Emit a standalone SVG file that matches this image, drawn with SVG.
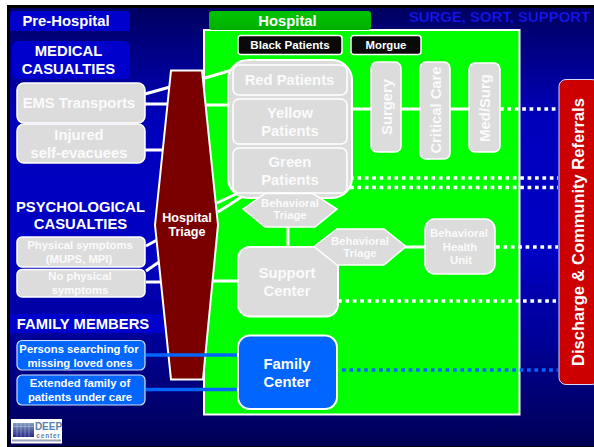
<svg xmlns="http://www.w3.org/2000/svg" width="594" height="447" viewBox="0 0 594 447">
<style>
text{font-family:"Liberation Sans",Arial,sans-serif;font-weight:bold;text-anchor:middle}
.w{fill:#fff}
.g{fill:#fff;opacity:.9}
.l{font-size:14.800px}
.s{font-size:11.300px}
.box{fill:#dcdcdc;stroke:#fff;stroke-width:1.500}
.bl{fill:#0066ff;stroke:#cfe0ff;stroke-width:1.200}
.k{fill:#0a0a0a;stroke:#fff;stroke-width:1.500}
.ln{stroke:#fff;stroke-width:3;fill:none}
.dot{stroke:#fff;stroke-width:3.500;fill:none;stroke-dasharray:3.700 3.700}
</style>
<defs>
<linearGradient id="bg" x1="0" y1="0" x2="0" y2="1">
<stop offset="0" stop-color="#000060"/><stop offset=".25" stop-color="#0000bb"/><stop offset=".55" stop-color="#0000c4"/><stop offset=".75" stop-color="#000099"/><stop offset="1" stop-color="#000055"/>
</linearGradient>
<linearGradient id="hd" x1="0" y1="0" x2="0" y2="1"><stop offset="0" stop-color="#00c400"/><stop offset="1" stop-color="#00b000"/></linearGradient>
<linearGradient id="lg" x1="0" y1="0" x2="0" y2="1"><stop offset="0" stop-color="#7f9cc0"/><stop offset="1" stop-color="#2a2a88"/></linearGradient>
</defs>
<rect width="594" height="447" fill="#fff"/>
<rect x="7" y="5" width="587" height="442" fill="#000"/>
<rect x="10" y="8" width="584" height="438" fill="url(#bg)"/>
<g id="title"><text x="499.500" y="22" font-size="14.900" fill="#1a1aee" stroke="#0000a0" stroke-width=".5">SURGE, SORT, SUPPORT</text></g>
<g id="hospital-area"><rect x="204" y="30" width="315.500" height="384.500" fill="#00ff00" stroke="#fff" stroke-width="2"/></g>
<g id="pre-hospital"><rect x="10" y="11" width="120" height="20" rx="3" fill="#0000cc"/><text class="w l" x="66" y="26">Pre-Hospital</text></g>
<g id="hospital"><rect x="209" y="11" width="162" height="19" rx="3" fill="url(#hd)"/><text class="w l" x="287.500" y="26">Hospital</text></g>
<g id="medical"><rect x="12" y="41" width="118" height="38" rx="6" fill="#0000cc"/><text class="w l" x="68.500" y="56">MEDICAL</text><text class="w l" x="68.500" y="74">CASUALTIES</text></g>
<g id="psych"><text class="w l" x="80.500" y="212">PSYCHOLOGICAL</text><text class="w l" x="80.500" y="229">CASUALTIES</text></g>
<g id="family-members"><rect x="10" y="314" width="155" height="19" fill="#0000cc"/><text class="w l" x="83" y="329">FAMILY MEMBERS</text></g>
<g id="connectors">
<path class="ln" d="M145 94L170 87M145 104H172M145 150H164M146 246L157 240M146 271L159 262M146 282H161M205 78L232 70M205 105H230M217 203L236 194M218 212L243 196M288 227V248M213 281H239M352 109H372M401 109H421M450 109H470M405 247H426"/>
<path class="dot" d="M500 109H556M350 178H558M350 187.500H558M496 247H558M338 301H556"/>
<path d="M342 370H558" stroke="#0066ff" stroke-width="3.500" stroke-dasharray="3.700 3.700" fill="none"/>
</g>
<g id="triage"><path d="M171 70.500H202L218 225L203 379.500H171L155 225Z" fill="#7a0000" stroke="#fff" stroke-width="2"/><text class="w" x="187" y="222" font-size="12.600">Hospital</text><text class="w" x="187" y="236" font-size="12.600">Triage</text></g>
<g id="blue-links"><path d="M146 355H239M146 389.500H239" stroke="#0066ff" stroke-width="3.500" fill="none"/></g>
<g id="black"><rect class="k" x="238" y="35.500" width="104" height="19" rx="3"/><text class="w" x="290" y="49" font-size="11.600">Black Patients</text></g>
<g id="morgue"><rect class="k" x="351" y="35.500" width="70" height="19" rx="3"/><text class="w" x="386" y="49" font-size="11.300">Morgue</text></g>
<g id="patients-frame"><rect x="228" y="60" width="124" height="138" rx="20" fill="#dcdcdc" stroke="#fff" stroke-width="2"/></g>
<g id="red"><rect class="box" x="233" y="65" width="114" height="30" rx="6"/><text class="g l" x="289.500" y="85">Red Patients</text></g>
<g id="yellow"><rect class="box" x="233" y="99" width="114" height="45" rx="6"/><text class="g l" x="290" y="118">Yellow</text><text class="g l" x="290" y="136">Patients</text></g>
<g id="green"><rect class="box" x="233" y="148" width="114" height="45" rx="6"/><text class="g l" x="290" y="167">Green</text><text class="g l" x="290" y="185">Patients</text></g>
<g id="surgery"><rect class="box" x="371" y="62" width="30" height="90" rx="6"/><text class="g l" transform="translate(392 107) rotate(-90)">Surgery</text></g>
<g id="critical"><rect class="box" x="420" y="62" width="30" height="97" rx="6"/><text class="g l" transform="translate(441 110) rotate(-90)">Critical Care</text></g>
<g id="medsurg"><rect class="box" x="469" y="63" width="31" height="89" rx="6"/><text class="g l" transform="translate(490 108) rotate(-90)">Med/Surg</text></g>
<g id="ems"><rect class="box" x="17" y="83" width="128" height="40" rx="7"/><text class="g l" x="79" y="108">EMS Transports</text></g>
<g id="injured"><rect class="box" x="17" y="124" width="128" height="39" rx="7"/><text class="g l" x="79" y="140">Injured</text><text class="g l" x="79" y="158">self-evacuees</text></g>
<g id="physical"><rect class="box" x="17" y="237" width="128" height="30" rx="5"/><text class="g s" x="80" y="249">Physical symptoms</text><text class="g s" x="79" y="263">(MUPS, MPI)</text></g>
<g id="nophysical"><rect class="box" x="17" y="269.500" width="128" height="27.500" rx="5"/><text class="g s" x="80" y="280">No physical</text><text class="g s" x="80" y="294">symptoms</text></g>
<g id="searching"><rect class="bl" x="17" y="340.500" width="128" height="29.500" rx="5"/><text class="w s" x="79" y="353">Persons searching for</text><text class="w s" x="80" y="367">missing loved ones</text></g>
<g id="extended"><rect class="bl" x="17" y="375" width="128" height="30" rx="5"/><text class="w s" x="80" y="387">Extended family of</text><text class="w s" x="80" y="401">patients under care</text></g>
<g id="beh1"><path d="M243 209L265 193.500H313L337 209L315 227H265Z" fill="#dcdcdc" stroke="#fff" stroke-width="1.500"/><text class="g s" x="290" y="207">Behavioral</text><text class="g s" x="290" y="219">Triage</text></g>
<g id="support"><rect x="238" y="247" width="100" height="69.500" rx="12" fill="#dcdcdc" stroke="#fff" stroke-width="2"/><text class="g l" x="287" y="278">Support</text><text class="g l" x="287" y="296">Center</text></g>
<g id="beh2"><path d="M314 246.500L337 229H384L406 246.500L384 265H337Z" fill="#dcdcdc" stroke="#fff" stroke-width="1.500"/><text class="g s" x="360" y="245">Behavioral</text><text class="g s" x="360" y="257">Triage</text></g>
<g id="bhu"><rect x="425" y="219" width="70" height="55" rx="10" fill="#dcdcdc" stroke="#fff" stroke-width="1.500"/><text class="g s" x="459" y="237">Behavioral</text><text class="g s" x="460" y="251">Health</text><text class="g s" x="461" y="264">Unit</text></g>
<g id="family"><rect x="238" y="335.500" width="99" height="73.500" rx="12" fill="#0066ff" stroke="#fff" stroke-width="2"/><text class="w l" x="287" y="369">Family</text><text class="w l" x="287" y="387">Center</text></g>
<g id="discharge"><rect x="559" y="79.500" width="40" height="305" rx="7" fill="#cc0000" stroke="#d8d8ff" stroke-width="1"/><text class="w" font-size="16.500" transform="translate(583.500 232) rotate(-90)">Discharge &amp; Community Referrals</text></g>
<g id="logo"><rect x="11" y="419" width="51" height="24.500" fill="#fff"/><rect x="13" y="423" width="21" height="14" fill="url(#lg)"/><path d="M13 426.500H34M17 423V437M21 423V437M25 423V437M29 423V437" stroke="#fff" stroke-width=".5" opacity=".6"/><rect x="12" y="439.500" width="49" height="2" fill="#9aa4bb"/><text x="48.500" y="429.500" font-size="10" fill="#5a82ad">DEEP</text><text x="48.500" y="438" font-size="6.500" letter-spacing=".8" fill="#5a82ad">center</text></g>
</svg>
